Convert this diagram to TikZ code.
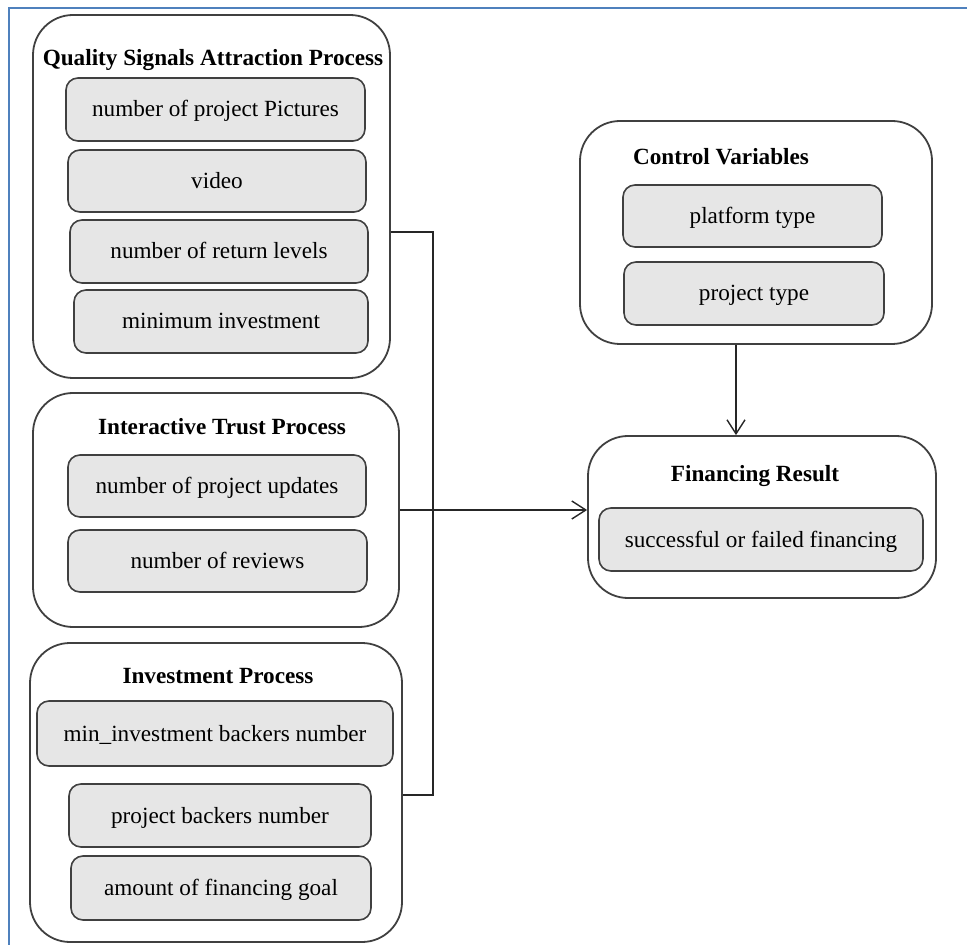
\documentclass[tikz,border=0pt]{standalone}
\usepackage{fontspec}
\setmainfont{Liberation Serif}
\usetikzlibrary{arrows.meta}
\definecolor{frameblue}{RGB}{79,129,189}
\definecolor{boxline}{RGB}{64,64,64}
\definecolor{boxfill}{RGB}{230,230,230}
\begin{document}
\begin{tikzpicture}[x=0.5pt,y=-0.5pt,
    group/.style={draw=boxline,line width=0.9pt,rounded corners=20pt,inner sep=0pt},
    item/.style={draw=boxline,line width=0.8pt,fill=boxfill,rounded corners=6pt,inner sep=0pt,
                 text height=0.8em,text depth=0.05em,font=\fontsize{11.6}{14}\selectfont},
    heading/.style={font=\fontsize{11.6}{14}\selectfont\bfseries,inner sep=0pt},
    link/.style={draw=black!85,line width=0.7pt},
    tip/.style={-{Straight Barb[length=7pt,width=9pt]}}]
    \useasboundingbox (0,0) rectangle (967,945);

    % Rahmen
    \draw[frameblue,line width=1pt] (9,945) -- (9,8) -- (967,8);

    % Quality Signals
    \node[group,minimum width=178.5pt,minimum height=181.5pt] (quality) at (211.5,196.5) {};
    \node[heading] (qtitle) at (213,60) {Quality Signals Attraction Process};
    \node[item,minimum width=149.5pt,minimum height=31.5pt] (pictures) at (215.5,109.5) {number of project Pictures};
    \node[item,minimum width=149pt,minimum height=31pt] (video) at (217,181) {video};
    \node[item,minimum width=149pt,minimum height=31.5pt] (levels) at (219,251.5) {number of return levels};
    \node[item,minimum width=147pt,minimum height=31.5pt] (mininv) at (221,321.5) {minimum investment};

    % Interactive Trust
    \node[group,minimum width=183pt,minimum height=117pt] (trust) at (216,510) {};
    \node[heading] (ttitle) at (222,427) {Interactive Trust Process};
    \node[item,minimum width=149pt,minimum height=31pt] (updates) at (217,486) {number of project updates};
    \node[item,minimum width=149.5pt,minimum height=31pt] (reviews) at (217.5,561) {number of reviews};

    % Investment
    \node[group,minimum width=186pt,minimum height=149.5pt] (invest) at (216,792.5) {};
    \node[heading] (ititle) at (218,676) {Investment Process};
    \node[item,minimum width=178pt,minimum height=32.5pt] (minbackers) at (215,733.5) {min\_investment backers number};
    \node[item,minimum width=151pt,minimum height=31.5pt] (backers) at (220,815.5) {project backers number};
    \node[item,minimum width=150pt,minimum height=32pt] (goal) at (221,888) {amount of financing goal};

    % Control Variables
    \node[group,minimum width=176pt,minimum height=111.5pt] (control) at (756,232.5) {};
    \node[heading] (ctitle) at (721,157) {Control Variables};
    \node[item,minimum width=129.5pt,minimum height=31pt] (platform) at (752.5,216) {platform type};
    \node[item,minimum width=130pt,minimum height=31.5pt] (ptype) at (754,293.5) {project type};

    % Financing Result
    \node[group,minimum width=174pt,minimum height=81pt] (result) at (762,517) {};
    \node[heading] (rtitle) at (755,476) {Financing Result};
    \node[item,minimum width=162pt,minimum height=31.5pt] (success) at (761,539.5) {successful or failed financing};

    % Verbindungen
    \coordinate (bustop) at (433,232);
    \coordinate (busbot) at (433,795);
    \coordinate (cvx) at (736,0);
    \draw[link] (quality.east |- bustop) -- (bustop) -- (busbot) -- (invest.east |- busbot);
    \draw[link,tip] (trust.east) -- (trust.east -| result.west);
    \draw[link,tip] (cvx |- control.south) -- (cvx |- result.north);
\end{tikzpicture}
\end{document}
